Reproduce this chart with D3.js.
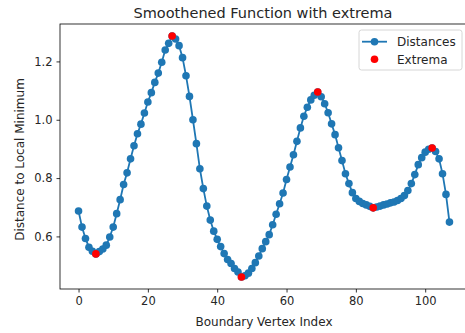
<!DOCTYPE html>
<html><head><meta charset="utf-8">
<script src="https://cdn.jsdelivr.net/npm/d3@7"></script>
<style>body{margin:0;background:#fff}svg{display:block}text{font-family:"DejaVu Sans",sans-serif;fill:#262626}</style>
</head><body>
<svg id="c" width="465" height="333"></svg>
<script>
const distances = [0.687,0.632,0.593,0.563,0.549,0.540,0.548,0.557,0.570,0.598,
0.632,0.678,0.726,0.778,0.818,0.866,0.911,0.952,0.985,1.023,
1.061,1.093,1.128,1.160,1.197,1.239,1.262,1.287,1.277,1.254,
1.213,1.151,1.080,1.000,0.918,0.832,0.764,0.704,0.656,0.618,
0.590,0.565,0.541,0.521,0.507,0.490,0.478,0.461,0.465,0.474,
0.490,0.510,0.533,0.558,0.582,0.606,0.640,0.676,0.712,0.749,
0.795,0.838,0.880,0.926,0.972,1.012,1.043,1.068,1.084,1.095,
1.079,1.055,1.024,0.986,0.949,0.904,0.860,0.815,0.781,0.750,
0.730,0.720,0.713,0.708,0.703,0.698,0.701,0.704,0.708,0.711,
0.715,0.718,0.723,0.730,0.740,0.757,0.781,0.812,0.846,0.870,
0.889,0.899,0.903,0.891,0.866,0.815,0.744,0.649];
const extremaIdx = [5,27,47,69,85,102];
const xTicks = [0,20,40,60,80,100];
const yTicks = [0.6,0.8,1.0,1.2];
const title = "Smoothened Function with extrema";
const xLabel = "Boundary Vertex Index";
const yLabel = "Distance to Local Minimum";
const legendLabels = ["Distances","Extrema"];

const svg = d3.select("#c");
const L=60,R=468,T=24,B=289;
const n = distances.length;
const xPad = (n-1)*0.05;
const x = d3.scaleLinear().domain([-xPad, n-1+xPad]).range([L,R]);
const ymin = d3.min(distances), ymax = d3.max(distances), yPad=(ymax-ymin)*0.05;
const y = d3.scaleLinear().domain([ymin-yPad, ymax+yPad]).range([B,T]);
const blue="#1f77b4", red="#ff0000";

// axes
const xa = svg.append("g").attr("transform",`translate(0,${B})`)
  .call(d3.axisBottom(x).tickValues(xTicks).tickSize(3.5).tickPadding(4).tickFormat(d3.format("d")));
const ya = svg.append("g").attr("transform",`translate(${L},0)`)
  .call(d3.axisLeft(y).tickValues(yTicks).tickSize(3.5).tickPadding(4).tickFormat(d3.format(".1f")));
[xa,ya].forEach(a=>{a.select(".domain").remove();a.selectAll("line").attr("stroke","#000").attr("stroke-width",0.8);
  a.selectAll("text").style("font-family","DejaVu Sans").style("font-size","11.5px").attr("fill","#262626");});
svg.append("rect").attr("x",L).attr("y",T).attr("width",R-L).attr("height",B-T)
  .attr("fill","none").attr("stroke","#000").attr("stroke-width",0.8);

// line + markers
const line = d3.line().x((d,i)=>x(i)).y(d=>y(d));
svg.append("path").datum(distances).attr("d",line).attr("fill","none").attr("stroke",blue).attr("stroke-width",1.8);
svg.append("g").selectAll("circle").data(distances).join("circle")
  .attr("cx",(d,i)=>x(i)).attr("cy",d=>y(d)).attr("r",3.8).attr("fill",blue);
svg.append("g").selectAll("circle").data(extremaIdx).join("circle")
  .attr("cx",i=>x(i)).attr("cy",i=>y(distances[i])).attr("r",3.8).attr("fill",red);

// labels
svg.append("text").attr("x",263).attr("y",17.5).attr("text-anchor","middle").style("font-size","14.5px").text(title);
svg.append("text").attr("x",264).attr("y",325.5).attr("text-anchor","middle").style("font-size","12px").text(xLabel);
svg.append("text").attr("transform",`translate(23.5,${(T+B)/2+3}) rotate(-90)`).attr("text-anchor","middle").style("font-size","12px").text(yLabel);

// legend
const lg = svg.append("g");
lg.append("rect").attr("x",359).attr("y",30).attr("width",103).attr("height",40).attr("rx",2.5)
  .attr("fill","#fff").attr("fill-opacity",0.8).attr("stroke","#ccc").attr("stroke-width",0.8);
lg.append("line").attr("x1",362).attr("x2",387).attr("y1",41.7).attr("y2",41.7).attr("stroke",blue).attr("stroke-width",1.8);
lg.append("circle").attr("cx",374.5).attr("cy",41.7).attr("r",3.8).attr("fill",blue);
lg.append("circle").attr("cx",374.5).attr("cy",59.3).attr("r",3.8).attr("fill",red);
legendLabels.forEach((t,i)=>lg.append("text").attr("x",397).attr("y",46+i*17.8).style("font-size","12px").text(t));
</script>
</body></html>
